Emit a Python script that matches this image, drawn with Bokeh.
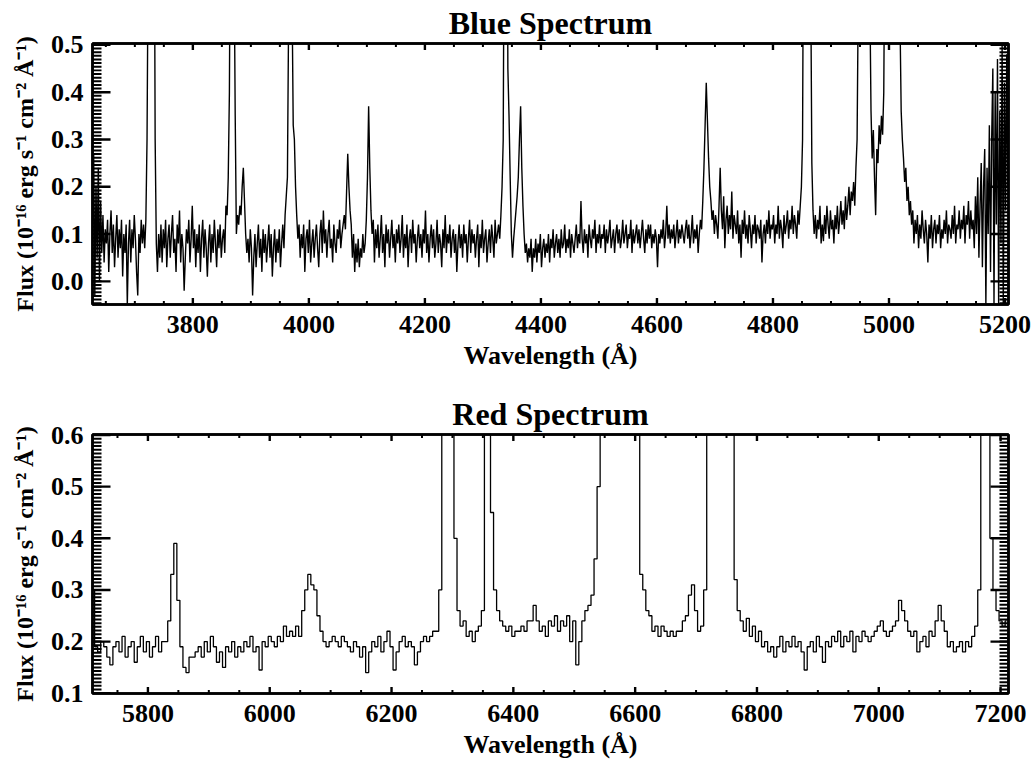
import numpy as np
from bokeh.plotting import figure
from bokeh.layouts import column
from bokeh.models import Range1d, LinearAxis, FixedTicker, PrintfTickFormatter
from bokeh.embed import file_html
from bokeh.resources import INLINE

# ---------------- data ----------------
# Blue arm: flux sampled every 2 A starting at 3627 A (10 samples per row)
blue_start, blue_step = 3627.0, 2.0
blue_flux = [
    0.12, 0.27, -0.03, 0.20, 0.05, 0.24, 0.00, 0.17, 0.06, 0.14,   # 3627
    0.04, 0.11, 0.08, 0.13, 0.02, 0.10, 0.15, 0.06, 0.12, 0.03,    # 3647
    0.09, 0.14, 0.05, 0.11, 0.07, 0.13, 0.01, 0.10, 0.06, 0.12,    # 3667
    -0.05, 0.08, 0.13, 0.04, 0.11, 0.07, 0.14, 0.09, 0.02, -0.03,  # 3687
    0.10, 0.06, 0.13, 0.08, 0.12, 0.07, 0.13, 0.30, 0.70, 1.30,    # 3707
    1.80, 1.60, 1.20, 1.00, 0.30, 0.08, 0.02, 0.10, 0.05, 0.12,    # 3727
    0.04, 0.11, 0.07, 0.13, 0.03, 0.09, 0.12, 0.05, 0.10, 0.14,    # 3747
    0.06, 0.09, 0.02, 0.12, 0.08, 0.15, 0.04, 0.10, 0.07, -0.02,   # 3767
    0.05, 0.11, 0.08, 0.13, 0.04, 0.09, 0.16, 0.07, 0.11, 0.03,    # 3787
    0.10, 0.06, 0.12, 0.02, 0.09, 0.13, 0.05, 0.11, 0.07, 0.01,    # 3807
    0.08, 0.12, 0.04, 0.10, 0.06, 0.13, 0.08, 0.03, 0.11, 0.07,    # 3827
    0.12, 0.05, 0.09, 0.11, 0.06, 0.16, 0.14, 0.22, 0.40, 0.90,    # 3847
    2.00, 1.50, 0.70, 0.35, 0.10, 0.14, 0.12, 0.16, 0.14, 0.20,    # 3867
    0.24, 0.17, 0.10, 0.06, 0.09, 0.04, 0.11, 0.07, -0.03, 0.05,   # 3887
    0.10, 0.03, 0.08, 0.12, 0.05, 0.09, 0.02, 0.11, 0.06, 0.10,    # 3907
    0.04, 0.08, 0.12, 0.05, 0.10, 0.01, 0.07, 0.11, 0.04, 0.09,    # 3927
    0.06, 0.11, 0.03, 0.08, 0.12, 0.07, 0.14, 0.18, 0.22, 0.55,    # 3947
    1.60, 1.20, 0.60, 0.33, 0.30, 0.20, 0.14, 0.09, 0.12, 0.05,    # 3967
    0.10, 0.07, 0.12, 0.02, 0.09, 0.11, 0.06, 0.13, 0.04, 0.08,    # 3987
    0.11, 0.05, 0.09, 0.12, 0.07, 0.03, 0.10, 0.13, 0.06, 0.15,    # 4007
    0.08, 0.11, 0.05, 0.10, 0.13, 0.07, 0.09, 0.04, 0.12, 0.08,    # 4027
    0.06, 0.11, 0.09, 0.13, 0.07, 0.10, 0.12, 0.14, 0.11, 0.19,    # 4047
    0.27, 0.20, 0.15, 0.12, 0.05, 0.10, 0.02, 0.08, 0.04, 0.09,    # 4067
    0.03, 0.07, 0.05, 0.10, 0.06, 0.08, 0.13, 0.22, 0.37, 0.24,    # 4087
    0.15, 0.10, 0.13, 0.04, 0.11, 0.07, 0.12, 0.05, 0.09, 0.14,    # 4107
    0.06, 0.10, 0.03, 0.12, 0.08, 0.11, 0.05, 0.09, 0.13, 0.07,    # 4127
    0.10, 0.04, 0.11, 0.08, 0.12, 0.06, 0.09, 0.14, 0.05, 0.10,    # 4147
    0.07, 0.12, 0.03, 0.09, 0.11, 0.06, 0.13, 0.08, 0.10, 0.04,    # 4167
    0.09, 0.12, 0.07, 0.10, 0.05, 0.11, 0.08, 0.15, 0.06, 0.10,    # 4187
    0.04, 0.09, 0.12, 0.07, 0.11, 0.05, 0.08, 0.13, 0.06, 0.10,    # 4207
    0.08, 0.03, 0.11, 0.07, 0.14, 0.06, 0.10, 0.08, 0.12, 0.05,    # 4227
    0.09, 0.11, 0.06, 0.10, 0.02, 0.08, 0.12, 0.07, 0.10, 0.05,    # 4247
    0.12, 0.08, 0.10, 0.04, 0.09, 0.13, 0.06, 0.11, 0.08, 0.10,    # 4267
    0.05, 0.09, 0.12, 0.03, 0.10, 0.07, 0.13, 0.06, 0.09, 0.11,    # 4287
    0.04, 0.08, 0.11, 0.06, 0.12, 0.09, 0.05, 0.13, 0.08, 0.10,    # 4307
    0.12, 0.09, 0.14, 0.20, 0.30, 0.90, 1.80, 1.20, 0.45, 0.35,    # 4327
    0.22, 0.10, 0.05, 0.09, 0.12, 0.15, 0.18, 0.22, 0.30, 0.37,    # 4347
    0.24, 0.16, 0.10, 0.06, 0.08, 0.04, 0.07, 0.05, 0.09, 0.02,    # 4367
    0.07, 0.05, 0.09, 0.04, 0.08, 0.06, 0.10, 0.03, 0.07, 0.09,    # 4387
    0.05, 0.08, 0.06, 0.10, 0.04, 0.09, 0.07, 0.11, 0.05, 0.08,    # 4407
    0.10, 0.06, 0.09, 0.05, 0.11, 0.07, 0.08, 0.12, 0.06, 0.09,    # 4427
    0.07, 0.11, 0.05, 0.10, 0.08, 0.06, 0.09, 0.12, 0.07, 0.10,    # 4447
    0.08, 0.17, 0.09, 0.06, 0.11, 0.08, 0.10, 0.05, 0.12, 0.09,    # 4467
    0.07, 0.11, 0.09, 0.13, 0.06, 0.10, 0.08, 0.12, 0.07, 0.10,    # 4487
    0.09, 0.12, 0.06, 0.11, 0.08, 0.10, 0.13, 0.07, 0.09, 0.11,    # 4507
    0.06, 0.10, 0.12, 0.08, 0.11, 0.07, 0.09, 0.13, 0.08, 0.10,    # 4527
    0.12, 0.07, 0.10, 0.09, 0.13, 0.06, 0.11, 0.08, 0.10, 0.12,    # 4547
    0.08, 0.11, 0.07, 0.10, 0.13, 0.09, 0.06, 0.11, 0.08, 0.12,    # 4567
    0.09, 0.12, 0.07, 0.10, 0.08, 0.11, 0.09, 0.03, 0.10, 0.08,    # 4587
    0.11, 0.09, 0.13, 0.07, 0.10, 0.16, 0.09, 0.12, 0.08, 0.11,    # 4607
    0.09, 0.12, 0.07, 0.10, 0.13, 0.08, 0.11, 0.09, 0.12, 0.10,    # 4627
    0.08, 0.11, 0.13, 0.09, 0.12, 0.07, 0.10, 0.14, 0.08, 0.11,    # 4647
    0.09, 0.12, 0.06, 0.10, 0.13, 0.11, 0.17, 0.24, 0.33, 0.42,    # 4667
    0.34, 0.26, 0.20, 0.17, 0.13, 0.15, 0.10, 0.14, 0.12, 0.09,    # 4687
    0.16, 0.24, 0.15, 0.11, 0.18, 0.07, 0.13, 0.16, 0.10, 0.14,    # 4707
    0.11, 0.19, 0.09, 0.14, 0.12, 0.10, 0.15, 0.08, 0.12, 0.05,    # 4727
    0.13, 0.10, 0.15, 0.09, 0.12, 0.08, 0.14, 0.11, 0.07, 0.12,    # 4747
    0.10, 0.14, 0.08, 0.12, 0.11, 0.09, 0.13, 0.04, 0.10, 0.12,    # 4767
    0.08, 0.13, 0.10, 0.15, 0.09, 0.12, 0.11, 0.14, 0.08, 0.12,    # 4787
    0.10, 0.16, 0.09, 0.13, 0.11, 0.07, 0.14, 0.10, 0.12, 0.15,    # 4807
    0.09, 0.13, 0.11, 0.16, 0.10, 0.14, 0.12, 0.09, 0.15, 0.12,    # 4827
    0.16, 0.20, 0.30, 0.90, 1.80, 2.50, 2.50, 1.60, 0.90, 0.65,    # 4847
    0.25, 0.15, 0.10, 0.14, 0.09, 0.13, 0.11, 0.16, 0.08, 0.12,    # 4867
    0.085, 0.14, 0.10, 0.16, 0.12, 0.09, 0.15, 0.11, 0.13, 0.08,   # 4887
    0.14, 0.11, 0.16, 0.10, 0.13, 0.17, 0.12, 0.15, 0.11, 0.18,    # 4907
    0.13, 0.16, 0.20, 0.14, 0.19, 0.17, 0.21, 0.16, 0.24, 0.30,    # 4927
    0.60, 1.50, 3.00, 4.00, 3.50, 2.50, 1.50, 1.00, 0.80, 0.70,    # 4947
    0.60, 0.36, 0.26, 0.32, 0.22, 0.14, 0.28, 0.25, 0.33, 0.29,    # 4967
    0.35, 0.31, 0.40, 0.80, 1.60, 3.00, 4.50, 6.00, 7.00, 7.00,    # 4987
    6.00, 4.50, 3.00, 2.00, 1.20, 0.80, 0.55, 0.36, 0.30, 0.26,    # 5007
    0.21, 0.24, 0.17, 0.20, 0.14, 0.17, 0.12, 0.15, 0.08, 0.13,    # 5027
    0.10, 0.14, 0.07, 0.12, 0.09, 0.15, 0.11, 0.08, 0.13, 0.10,    # 5047
    0.04, 0.12, 0.09, 0.14, 0.07, 0.11, 0.13, 0.08, 0.12, 0.10,    # 5067
    0.14, 0.07, 0.11, 0.09, 0.13, 0.10, 0.15, 0.08, 0.12, 0.11,    # 5087
    0.09, 0.14, 0.10, 0.16, 0.08, 0.12, 0.11, 0.15, 0.09, 0.13,    # 5107
    0.11, 0.16, 0.08, 0.14, 0.12, 0.17, 0.09, 0.15, 0.11, 0.13,    # 5127
    0.07, 0.18, 0.10, 0.22, 0.05, 0.16, 0.25, 0.03, 0.20, 0.28,    # 5147
    -0.05, 0.24, 0.10, 0.33, 0.02, 0.30, 0.45, -0.05, 0.40, 0.12,  # 5167
    0.47, -0.05, 0.36, 0.08, 0.50, -0.05, 0.42, 0.15, 0.48, 0.20,  # 5187
]

# Red arm: flux sampled every 5 A starting at 5710 A (10 samples per row)
red_start, red_step = 5710.0, 5.0
red_flux = [
    0.30, 0.19, 0.18, 0.20, 0.19, 0.17, 0.155, 0.19, 0.20, 0.18,   # 5710
    0.21, 0.17, 0.19, 0.20, 0.16, 0.19, 0.21, 0.18, 0.20, 0.17,    # 5760
    0.19, 0.21, 0.18, 0.20, 0.20, 0.24, 0.33, 0.39, 0.28, 0.19,    # 5810
    0.15, 0.14, 0.17, 0.17, 0.18, 0.19, 0.17, 0.20, 0.18, 0.21,    # 5860
    0.19, 0.16, 0.18, 0.15, 0.19, 0.18, 0.20, 0.17, 0.19, 0.18,    # 5910
    0.20, 0.19, 0.21, 0.18, 0.19, 0.145, 0.20, 0.19, 0.21, 0.20,   # 5960
    0.19, 0.21, 0.20, 0.23, 0.21, 0.22, 0.21, 0.23, 0.21, 0.26,    # 6010
    0.30, 0.33, 0.31, 0.30, 0.25, 0.22, 0.20, 0.19, 0.20, 0.21,    # 6060
    0.20, 0.19, 0.21, 0.20, 0.19, 0.18, 0.20, 0.19, 0.17, 0.19,    # 6110
    0.14, 0.18, 0.20, 0.19, 0.21, 0.18, 0.20, 0.22, 0.19, 0.145,   # 6160
    0.18, 0.20, 0.21, 0.19, 0.20, 0.19, 0.155, 0.18, 0.20, 0.21,   # 6210
    0.20, 0.21, 0.22, 0.22, 0.30, 0.70, 2.00, 3.00, 1.00, 0.40,    # 6260
    0.26, 0.23, 0.24, 0.21, 0.22, 0.20, 0.22, 0.23, 0.26, 0.80,    # 6310
    1.20, 0.45, 0.30, 0.26, 0.24, 0.23, 0.22, 0.23, 0.21, 0.22,    # 6360
    0.22, 0.23, 0.22, 0.24, 0.24, 0.27, 0.24, 0.22, 0.23, 0.21,    # 6410
    0.24, 0.23, 0.25, 0.22, 0.24, 0.23, 0.25, 0.20, 0.24, 0.155,   # 6460
    0.20, 0.24, 0.26, 0.27, 0.29, 0.36, 0.50, 1.50, 3.00, 5.00,    # 6510
    7.00, 8.00, 6.00, 4.00, 3.00, 4.00, 2.50, 1.50, 1.00, 0.60,    # 6560
    0.33, 0.30, 0.26, 0.25, 0.22, 0.23, 0.21, 0.23, 0.22, 0.21,    # 6610
    0.22, 0.21, 0.22, 0.22, 0.24, 0.25, 0.29, 0.31, 0.26, 0.22,    # 6660
    0.23, 0.30, 0.70, 3.00, 2.00, 3.50, 2.50, 1.50, 1.00, 0.90,    # 6710
    0.70, 0.32, 0.26, 0.24, 0.22, 0.245, 0.21, 0.23, 0.20, 0.22,   # 6760
    0.19, 0.20, 0.18, 0.19, 0.17, 0.19, 0.21, 0.18, 0.20, 0.19,    # 6810
    0.21, 0.19, 0.20, 0.18, 0.145, 0.19, 0.20, 0.18, 0.21, 0.19,   # 6860
    0.16, 0.20, 0.19, 0.21, 0.20, 0.22, 0.19, 0.21, 0.20, 0.22,    # 6910
    0.18, 0.21, 0.20, 0.22, 0.21, 0.20, 0.21, 0.22, 0.23, 0.24,    # 6960
    0.22, 0.21, 0.22, 0.23, 0.24, 0.28, 0.26, 0.24, 0.22, 0.21,    # 7010
    0.22, 0.18, 0.20, 0.21, 0.19, 0.22, 0.21, 0.24, 0.27, 0.24,    # 7060
    0.22, 0.19, 0.20, 0.18, 0.19, 0.20, 0.18, 0.20, 0.19, 0.21,    # 7110
    0.23, 0.30, 0.60, 2.00, 0.65, 0.40, 0.30, 0.26, 0.24, 0.23,    # 7160
    0.24,                                                          # 7210
]

blue_xlim, blue_ylim = (3627, 5206), (-0.049, 0.503)
red_xlim, red_ylim = (5709, 7213), (0.0995, 0.601)

blue_xticks = [3800, 4000, 4200, 4400, 4600, 4800, 5000, 5200]
red_xticks = [5800, 6000, 6200, 6400, 6600, 6800, 7000, 7200]
blue_yticks = [0.0, 0.1, 0.2, 0.3, 0.4, 0.5]
red_yticks = [0.1, 0.2, 0.3, 0.4, 0.5, 0.6]

FONT = "Liberation Serif"
YLABEL = "Flux (10\u207b\u00b9\u2076 erg s\u207b\u00b9 cm\u207b\u00b2 \u00c5\u207b\u00b9)"
XLABEL = "Wavelength (\u00c5)"

FIG_W = 1031
BORDER_L, BORDER_R = 92, 23
TICK_COLOR = "black"


def style_axis(ax, show_labels):
    # tick marks of the box are drawn as filled bars below
    ax.major_tick_in = 0
    ax.major_tick_out = 0
    ax.minor_tick_in = 0
    ax.minor_tick_out = 0
    ax.major_tick_line_color = None
    ax.minor_tick_line_color = None
    ax.axis_line_width = 2.5
    ax.axis_line_color = "black"
    if show_labels:
        ax.major_label_text_font = FONT
        ax.major_label_text_font_style = "bold"
        ax.major_label_text_font_size = "26px"
        ax.major_label_text_color = "black"
        ax.axis_label_text_font = FONT
        ax.axis_label_text_font_style = "bold"
        ax.axis_label_text_font_size = "26px"
        ax.axis_label_text_color = "black"
    else:
        # mirrored box axis: line only
        ax.major_label_text_font_size = "1px"
        ax.major_label_text_color = None
        ax.major_label_text_alpha = 0
        ax.major_label_standoff = 0
        ax.axis_label = None


def tick_bars(p, xlim, ylim, frame_w, frame_h, xs, ys, x_len, y_len, thick):
    """Inward tick marks on all four frame sides, as filled quads.
    xs: tick positions along x (bottom + top), ys: along y (left + right);
    lengths and thickness in screen pixels."""
    dx = (xlim[1] - xlim[0]) / frame_w     # data units per pixel
    dy = (ylim[1] - ylim[0]) / frame_h
    hx, hy = thick * dx / 2, thick * dy / 2
    nx, ny = len(xs), len(ys)
    if nx:
        p.quad(left=[x - hx for x in xs] * 2, right=[x + hx for x in xs] * 2,
               bottom=[ylim[0]] * nx + [ylim[1] - x_len * dy] * nx,
               top=[ylim[0] + x_len * dy] * nx + [ylim[1]] * nx,
               fill_color=TICK_COLOR, line_color=None)
    if ny:
        p.quad(left=[xlim[0]] * ny + [xlim[1] - y_len * dx] * ny,
               right=[xlim[0] + y_len * dx] * ny + [xlim[1]] * ny,
               bottom=[y - hy for y in ys] * 2, top=[y + hy for y in ys] * 2,
               fill_color=TICK_COLOR, line_color=None)


def spectrum_panel(title, xlim, ylim, xticks, yticks, n_yminor, height,
                   border_top, border_bottom):
    p = figure(width=FIG_W, height=height,
               x_range=Range1d(*xlim), y_range=Range1d(*ylim),
               output_backend="svg", toolbar_location=None,
               min_border_left=BORDER_L, min_border_right=BORDER_R,
               min_border_top=border_top, min_border_bottom=border_bottom)
    p.xgrid.visible = False
    p.ygrid.visible = False
    p.outline_line_color = "black"
    p.outline_line_width = 2.5
    p.background_fill_color = "white"
    p.border_fill_color = "white"

    p.title.text = title
    p.title.align = "center"
    p.title.text_font = FONT
    p.title.text_font_style = "bold"
    p.title.text_font_size = "32px"
    p.title.text_color = "black"
    p.title.standoff = 5

    xticker = FixedTicker(ticks=xticks)
    yticker = FixedTicker(ticks=yticks)

    xb = p.xaxis[0]
    xb.ticker = xticker
    xb.formatter = PrintfTickFormatter(format="%d")
    xb.axis_label = XLABEL
    style_axis(xb, True)
    xb.major_label_standoff = 11
    xb.axis_label_standoff = 5

    yl = p.yaxis[0]
    yl.ticker = yticker
    yl.formatter = PrintfTickFormatter(format="%.1f")
    yl.axis_label = YLABEL
    style_axis(yl, True)
    yl.axis_label_text_font_size = "24px"
    yl.major_label_standoff = 9
    yl.axis_label_standoff = 10

    top = LinearAxis(ticker=xticker)
    style_axis(top, False)
    p.add_layout(top, "above")
    right = LinearAxis(ticker=yticker)
    style_axis(right, False)
    p.add_layout(right, "right")

    xminor = [float(v) for v in np.arange(xticks[0] - 200, xticks[-1] + 200, 50.0)
              if xlim[0] < v < xlim[1] and v not in xticks]
    ystep = (yticks[1] - yticks[0]) / n_yminor
    yminor = [float(v) for v in np.arange(yticks[0] - 0.2, yticks[-1] + 0.2, ystep)
              if ylim[0] < v < ylim[1]]
    xmajor = [float(v) for v in xticks if xlim[0] < v < xlim[1]]
    ymajor = [float(v) for v in yticks if ylim[0] < v < ylim[1]]

    frame_w = FIG_W - BORDER_L - BORDER_R
    frame_h = height - border_top - border_bottom
    tick_bars(p, xlim, ylim, frame_w, frame_h, xminor, yminor, 3.5, 9, 2.0)
    tick_bars(p, xlim, ylim, frame_w, frame_h, xmajor, ymajor, 6.5, 18, 2.4)
    return p


blue_wave = blue_start + blue_step * np.arange(len(blue_flux))
red_wave = red_start + red_step * np.arange(len(red_flux))

p_blue = spectrum_panel("Blue Spectrum", blue_xlim, blue_ylim, blue_xticks,
                        blue_yticks, 13, 372, 43, 67)
p_blue.line(blue_wave, blue_flux, line_color="black", line_width=1.4)

p_red = spectrum_panel("Red Spectrum", red_xlim, red_ylim, red_xticks,
                       red_yticks, 14, 389, 62, 66)
p_red.step(red_wave, red_flux, mode="center", line_color="black", line_width=1.3)

layout = column(p_blue, p_red, spacing=0)
open("out.html", "w").write(file_html(layout, INLINE))
